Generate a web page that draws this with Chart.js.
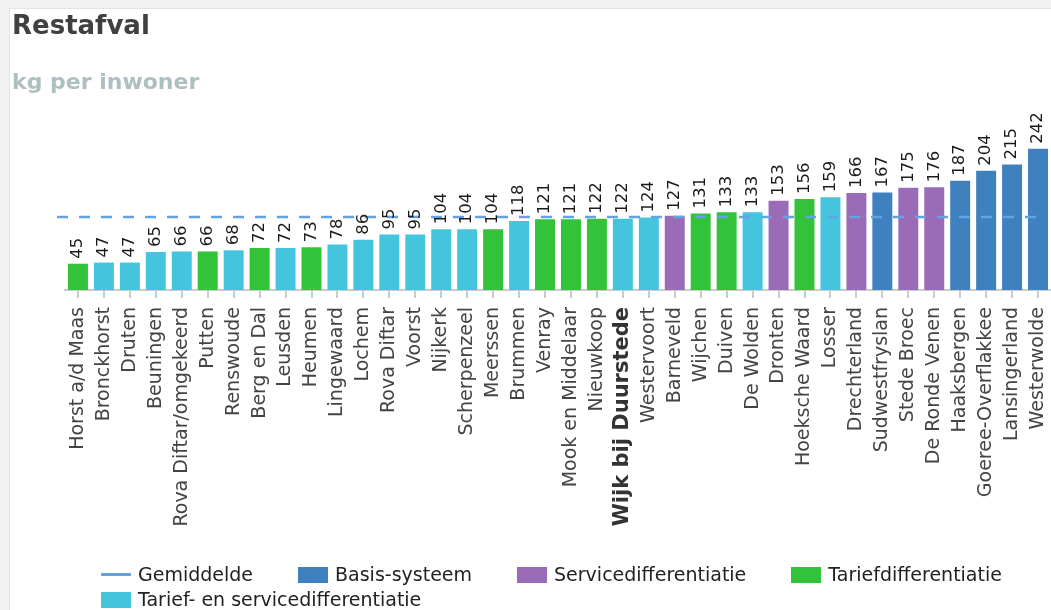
<!DOCTYPE html>
<html>
<head>
<meta charset="utf-8">
<script src="https://cdn.jsdelivr.net/npm/chart.js@4.4.1/dist/chart.umd.min.js"></script>
<style>
  html, body { margin: 0; padding: 0; width: 1051px; height: 610px; overflow: hidden; background: #f2f2f2; font-family: "DejaVu Sans", Verdana, sans-serif; }
  #panel { position: absolute; left: 9px; top: 8px; right: 0; bottom: 0; background: #fff; border-left: 1px solid #e3e3e3; border-top: 1px solid #e3e3e3; }
  #wrap { position: absolute; left: 0; top: 0; width: 1051px; height: 610px; }
  #title { position: absolute; left: 12px; top: 12px; font-size: 26px; line-height: 26px; font-weight: bold; color: #404040; white-space: nowrap; }
  #subtitle { position: absolute; left: 12px; top: 71px; font-size: 22px; line-height: 22px; font-weight: bold; color: #aebfc1; white-space: nowrap; }
  #legend { position: absolute; left: 101px; top: 562px; width: 950px; font-size: 19px; color: #222; line-height: 25px; }
  .item { display: inline-flex; align-items: center; margin-right: 45px; white-space: nowrap; height: 25px; vertical-align: top; }
  .sw { display: inline-block; width: 30px; height: 16px; margin-right: 7px; }
  .sw.line { height: 3px; }
</style>
</head>
<body>
<div id="panel"></div>
<div id="wrap"><canvas id="c" width="1051" height="610"></canvas></div>
<div id="title">Restafval</div>
<div id="subtitle">kg per inwoner</div>
<div id="legend"></div>
<script>
// ---- data ----
const categories = [
  "Horst a/d Maas", "Bronckhorst", "Druten", "Beuningen", "Rova Diftar/omgekeerd",
  "Putten", "Renswoude", "Berg en Dal", "Leusden", "Heumen", "Lingewaard", "Lochem",
  "Rova Diftar", "Voorst", "Nijkerk", "Scherpenzeel", "Meerssen", "Brummen", "Venray",
  "Mook en Middelaar", "Nieuwkoop", "Wijk bij Duurstede", "Westervoort", "Barneveld",
  "Wijchen", "Duiven", "De Wolden", "Dronten", "Hoeksche Waard", "Losser", "Drechterland",
  "Sudwestfryslan", "Stede Broec", "De Ronde Venen", "Haaksbergen", "Goeree-Overflakkee",
  "Lansingerland", "Westerwolde"
];
const values = [
  45, 47, 47, 65, 66, 66, 68, 72, 72, 73, 78, 86, 95, 95, 104, 104, 104, 118, 121,
  121, 122, 122, 124, 127, 131, 133, 133, 153, 156, 159, 166, 167, 175, 176, 187, 204,
  215, 242
];
// system type per category
const systems = [
  "T", "TS", "TS", "TS", "TS", "T", "TS", "T", "TS", "T", "TS", "TS",
  "TS", "TS", "TS", "TS", "T", "TS", "T", "T", "T", "TS", "TS", "S",
  "T", "T", "TS", "S", "T", "TS", "S", "B", "S", "S", "B", "B", "B", "B"
];
const average = 125;
const averageLabel = "Gemiddelde";
const highlighted = "Wijk bij Duurstede";
const systemKeys = ["B", "S", "T", "TS"];
const systemLabels = ["Basis-systeem", "Servicedifferentiatie", "Tariefdifferentiatie", "Tarief- en servicedifferentiatie"];
const systemColors = ["#3f80bf", "#9a6cb8", "#33c33b", "#45c5dd"];
const averageColor = "#62a3e3";

const colorOf = k => systemColors[systemKeys.indexOf(k)];
const FONT = "'DejaVu Sans', Verdana, sans-serif";

// ---- HTML legend ----
const legendEl = document.getElementById('legend');
function addItem(label, color, isLine) {
  const it = document.createElement('span'); it.className = 'item';
  const sw = document.createElement('span'); sw.className = 'sw' + (isLine ? ' line' : ''); sw.style.background = color;
  const tx = document.createElement('span'); tx.textContent = label;
  it.appendChild(sw); it.appendChild(tx); legendEl.appendChild(it);
}
addItem(averageLabel, averageColor, true);
systemLabels.forEach((l, i) => addItem(l, systemColors[i], false));

// ---- plugins ----
const averagePlugin = {
  id: 'averageLine',
  afterDatasetsDraw(chart) {
    const { ctx, chartArea, scales } = chart;
    const y = scales.y.getPixelForValue(average);
    const x0 = chartArea.left - 8;
    const x1 = scales.x.getPixelForValue(categories.length - 1) + 2;
    ctx.save();
    ctx.strokeStyle = averageColor;
    ctx.lineWidth = 2.5;
    ctx.setLineDash([11, 11]);
    ctx.beginPath(); ctx.moveTo(x0, y); ctx.lineTo(x1, y); ctx.stroke();
    ctx.restore();
  }
};
const valueLabelPlugin = {
  id: 'valueLabels',
  afterDatasetsDraw(chart) {
    const { ctx } = chart;
    const meta = chart.getDatasetMeta(0);
    ctx.save();
    ctx.font = "16.5px " + FONT;
    ctx.fillStyle = "#1a1a1a";
    ctx.textAlign = 'left';
    ctx.textBaseline = 'middle';
    meta.data.forEach((bar, i) => {
      ctx.save();
      ctx.translate(bar.x, bar.y - 5);
      ctx.rotate(-Math.PI / 2);
      ctx.fillText(String(values[i]), 0, 0);
      ctx.restore();
    });
    ctx.restore();
  }
};

new Chart(document.getElementById('c'), {
  type: 'bar',
  data: {
    labels: categories,
    datasets: [{
      label: 'Restafval',
      data: values,
      backgroundColor: systems.map(colorOf),
      borderWidth: 0,
      barPercentage: 0.77,
      categoryPercentage: 1
    }]
  },
  options: {
    responsive: false,
    animation: false,
    devicePixelRatio: 1,
    layout: { padding: { left: 65, right: 0, top: 144, bottom: 20 } },
    plugins: { legend: { display: false }, tooltip: { enabled: false }, title: { display: false } },
    scales: {
      y: { display: false, min: 0, max: 250 },
      x: {
        afterFit(s) { s.height = 300; s.paddingLeft = 0; s.paddingRight = 0; },
        grid: { display: true, drawOnChartArea: false, drawTicks: true, tickLength: 8, offset: false, color: '#cccccc', lineWidth: 2 },
        border: { display: true, color: '#cccccc', width: 2 },
        ticks: {
          autoSkip: false, minRotation: 90, maxRotation: 90, padding: 9,
          color: ctx => (categories[ctx.index] === highlighted ? '#333' : '#444'),
          font: ctx => (categories[ctx.index] === highlighted
            ? { family: FONT, size: 21, weight: 'bold' }
            : { family: FONT, size: 19, weight: 'normal' })
        }
      }
    }
  },
  plugins: [averagePlugin, valueLabelPlugin]
});
</script>
</body>
</html>
